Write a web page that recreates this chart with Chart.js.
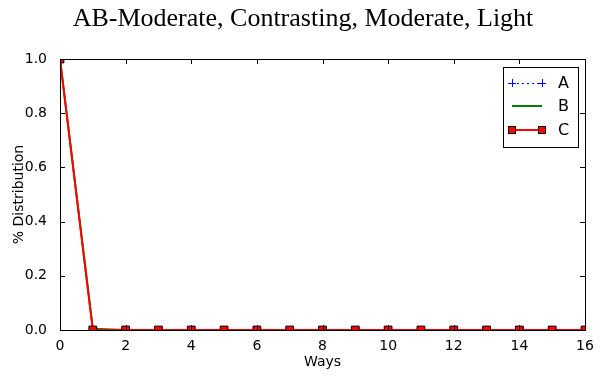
<!DOCTYPE html>
<html>
<head>
<meta charset="utf-8">
<script src="https://cdn.jsdelivr.net/npm/chart.js@4"></script>
<style>
  html, body { margin: 0; padding: 0; background: #fff; }
  #wrap { width: 606px; height: 375px; }
</style>
</head>
<body>
<div id="wrap"><canvas id="waysChart" width="606" height="375"></canvas></div>
<script>
  "use strict";

  // Distribution per number of ways
  var ways = [0, 1, 2, 3, 4, 5, 6, 7, 8, 9, 10, 11, 12, 13, 14, 15, 16];
  var seriesA = [1.0, 0, 0, 0, 0, 0, 0, 0, 0, 0, 0, 0, 0, 0, 0, 0, 0];
  var seriesB = [1.0, 0.005, 0, 0, 0, 0, 0, 0, 0, 0, 0, 0, 0, 0, 0, 0, 0];
  var seriesC = [1.0, 0, 0, 0, 0, 0, 0, 0, 0, 0, 0, 0, 0, 0, 0, 0, 0];
  var xTicks = [0, 2, 4, 6, 8, 10, 12, 14, 16];
  var yTicks = [0.0, 0.2, 0.4, 0.6, 0.8, 1.0];
  var chartTitle = 'AB-Moderate, Contrasting, Moderate, Light';

  function toPoints(values) {
    return values.map(function (v, i) { return { x: ways[i], y: v }; });
  }

  var sansFont = "'DejaVu Sans', sans-serif";

  // Title centred on the canvas, frame, inward ticks on all sides and the boxed legend
  var framePlugin = {
    id: 'frame',
    afterDatasetsDraw: function (chart) {
      var ctx = chart.ctx;
      var a = chart.chartArea;
      var xs = chart.scales.x, ys = chart.scales.y;
      var tick = 5;
      ctx.save();

      ctx.fillStyle = '#000';
      ctx.font = "26px 'Liberation Serif', serif";
      ctx.textAlign = 'center';
      ctx.textBaseline = 'middle';
      ctx.fillText(chartTitle, chart.width / 2, 19.5);

      ctx.strokeStyle = '#000';
      ctx.lineWidth = 1;
      ctx.beginPath();
      xTicks.forEach(function (t) {
        var px = Math.round(xs.getPixelForValue(t)) + 0.5;
        ctx.moveTo(px, a.bottom); ctx.lineTo(px, a.bottom - tick);
        ctx.moveTo(px, a.top); ctx.lineTo(px, a.top + tick);
      });
      yTicks.forEach(function (t) {
        var py = Math.round(ys.getPixelForValue(t)) + 0.5;
        ctx.moveTo(a.left, py); ctx.lineTo(a.left + tick, py);
        ctx.moveTo(a.right, py); ctx.lineTo(a.right - tick, py);
      });
      ctx.stroke();
      ctx.strokeRect(Math.round(a.left) + 0.5, Math.round(a.top) + 0.5,
        Math.round(a.right - a.left), Math.round(a.bottom - a.top));

      // legend box
      var bx = Math.round(a.right) - 82, by = Math.round(a.top) + 8, bw = 75, bh = 80;
      ctx.fillStyle = '#fff';
      ctx.fillRect(bx, by, bw, bh);
      ctx.strokeRect(bx + 0.5, by + 0.5, bw, bh);

      var x0 = bx + 9, x1 = bx + 39;
      var rows = [by + 16, by + 39, by + 63];
      var labels = ['A', 'B', 'C'];

      // A: dotted blue with plus markers
      ctx.strokeStyle = '#0000ff';
      ctx.setLineDash([2, 3]);
      ctx.beginPath(); ctx.moveTo(x0, rows[0] + 0.5); ctx.lineTo(x1, rows[0] + 0.5); ctx.stroke();
      ctx.setLineDash([]);
      [x0, x1].forEach(function (px) {
        ctx.beginPath();
        ctx.moveTo(px - 4, rows[0] + 0.5); ctx.lineTo(px + 4, rows[0] + 0.5);
        ctx.moveTo(px + 0.5, rows[0] - 4); ctx.lineTo(px + 0.5, rows[0] + 4);
        ctx.stroke();
      });

      // B: solid green
      ctx.strokeStyle = '#008000';
      ctx.lineWidth = 2;
      ctx.beginPath(); ctx.moveTo(x0, rows[1]); ctx.lineTo(x1, rows[1]); ctx.stroke();

      // C: red with square markers
      ctx.strokeStyle = '#ff0000';
      ctx.beginPath(); ctx.moveTo(x0, rows[2]); ctx.lineTo(x1, rows[2]); ctx.stroke();
      ctx.lineWidth = 1;
      [x0, x1].forEach(function (px) {
        ctx.fillStyle = '#ff0000';
        ctx.fillRect(px - 3.5, rows[2] - 3.5, 7, 7);
        ctx.strokeStyle = '#000';
        ctx.strokeRect(px - 3.5, rows[2] - 3.5, 7, 7);
      });

      ctx.fillStyle = '#000';
      ctx.font = "16px " + sansFont;
      ctx.textBaseline = 'middle';
      ctx.textAlign = 'left';
      labels.forEach(function (l, i) { ctx.fillText(l, bx + 55, rows[i] + 1); });
      ctx.restore();
    }
  };

  var ctx = document.getElementById('waysChart').getContext('2d');
  var waysChart = new Chart(ctx, {
    type: 'line',
    data: {
      datasets: [{
        label: 'A',
        data: toPoints(seriesA),
        borderColor: '#0000ff',
        borderWidth: 1,
        borderDash: [2, 3],
        pointStyle: 'cross',
        pointRadius: 4,
        pointBorderColor: '#0000ff',
        pointBorderWidth: 1,
        clip: 0,
        order: 3
      }, {
        label: 'B',
        data: toPoints(seriesB),
        borderColor: '#008000',
        borderWidth: 2,
        pointRadius: 0,
        clip: 0,
        order: 2
      }, {
        label: 'C',
        data: toPoints(seriesC),
        borderColor: '#ff0000',
        borderWidth: 2,
        pointStyle: 'rect',
        pointRadius: 5.5,
        pointBackgroundColor: '#ff0000',
        pointBorderColor: '#000',
        pointBorderWidth: 1,
        clip: 0,
        order: 1
      }]
    },
    options: {
      responsive: false,
      animation: false,
      events: [],
      layout: { padding: { left: 0, right: 21, top: 59, bottom: 0 } },
      elements: { line: { tension: 0 } },
      scales: {
        x: {
          type: 'linear',
          min: 0,
          max: 16,
          afterFit: function (scale) { scale.height = 45; },
          afterBuildTicks: function (scale) {
            scale.ticks = xTicks.map(function (v) { return { value: v }; });
          },
          grid: { display: false },
          border: { display: false },
          ticks: {
            color: '#000',
            padding: 0,
            font: { family: sansFont, size: 14 },
            callback: function (v) { return String(v); }
          },
          title: {
            display: true,
            text: 'Ways',
            color: '#000',
            font: { family: sansFont, size: 14 },
            padding: { top: 0, bottom: 4 }
          }
        },
        y: {
          min: 0,
          max: 1,
          afterFit: function (scale) { scale.width = 60; },
          afterBuildTicks: function (scale) {
            scale.ticks = yTicks.map(function (v) { return { value: v }; });
          },
          grid: { display: false },
          border: { display: false },
          ticks: {
            color: '#000',
            padding: 5,
            font: { family: sansFont, size: 14 },
            callback: function (v) { return Number(v).toFixed(1); }
          },
          title: {
            display: true,
            text: '% Distribution',
            color: '#000',
            font: { family: sansFont, size: 14 },
            padding: { top: 11, bottom: 0 }
          }
        }
      },
      plugins: {
        legend: { display: false },
        tooltip: { enabled: false },
        title: { display: false }
      }
    },
    plugins: [framePlugin]
  });
</script>
</body>
</html>
